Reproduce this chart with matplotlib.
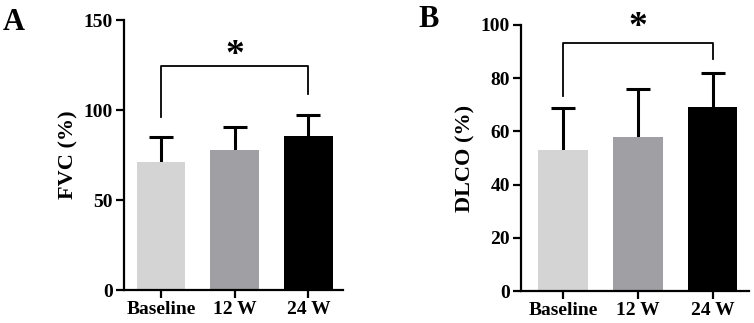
import matplotlib
matplotlib.use("Agg")
import matplotlib.pyplot as plt

plt.rcParams.update({"font.family": "Liberation Serif", "font.weight": "bold",
                     "axes.linewidth": 1.6})

groups = ["Baseline", "12 W", "24 W"]
colors = ["#d4d4d4", "#a0a0a4", "#000000"]

fvc_mean = [71, 78, 85.5]
fvc_sd = [14, 12.3, 12]
dlco_mean = [53, 57.9, 69.2]
dlco_sd = [15.7, 17.9, 12.7]

# bracket: (left drop end, right drop end, bar height, star y)
fvc_sig = (96, 109, 124.5, 130.5)
dlco_sig = (73.3, 87, 93.3, 99)


def panel(ax, mean, sd, ylab, ylim, step, sig, xlim):
    x = range(len(groups))
    ax.bar(x, mean, width=0.66, color=colors, zorder=2)
    # symmetric bars drawn behind the columns, so only the upper half shows
    ax.errorbar(x, mean, yerr=sd, fmt="none", ecolor="black",
                elinewidth=2.2, capsize=8.5, capthick=2.2, zorder=1)
    l, r, h, s = sig
    ax.plot([0, 0, 2, 2], [l, h, h, r], color="black", lw=1.3)
    ax.text(1, s, "*", ha="center", va="center", fontsize=27, fontweight="bold")
    ax.set_ylim(*ylim)
    ax.set_xlim(*xlim)
    ax.set_yticks(range(ylim[0], ylim[1] + 1, step))
    ax.set_xticks(list(x))
    ax.set_xticklabels(groups)
    ax.set_ylabel(ylab, fontsize=16, fontweight="bold", labelpad=4)
    ax.tick_params(labelsize=14, width=1.6, length=6, pad=2)
    for sp in ("top", "right"):
        ax.spines[sp].set_visible(False)


fig = plt.figure(figsize=(7.54, 3.23), dpi=100)
axA = fig.add_axes([0.1645, 0.102, 0.2905, 0.836])
axB = fig.add_axes([0.691, 0.099, 0.302, 0.824])
panel(axA, fvc_mean, fvc_sd, "FVC (%)", (0, 150), 50, fvc_sig, (-0.5, 2.47))
panel(axB, dlco_mean, dlco_sd, "DLCO (%)", (0, 100), 20, dlco_sig, (-0.56, 2.48))

fig.text(0.003, 0.975, "A", fontsize=22, fontweight="bold", va="top")
fig.text(0.555, 0.985, "B", fontsize=22, fontweight="bold", va="top")

fig.savefig("out.png", dpi=100)
